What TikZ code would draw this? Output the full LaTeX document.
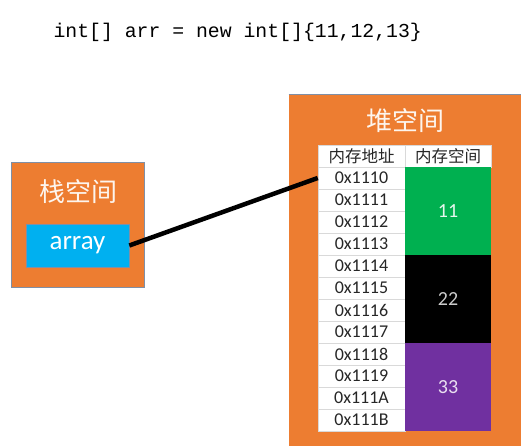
\documentclass[tikz,border=0pt]{standalone}
\usepackage{fontspec}
\setmainfont{Carlito}
\newfontfamily\cjk{Noto Sans CJK SC}
\newfontfamily\codefont{Liberation Mono}
\definecolor{orng}{HTML}{ED7D31}
\definecolor{cyanbox}{HTML}{00B0F0}
\definecolor{grn}{HTML}{00B050}
\definecolor{purp}{HTML}{7030A0}
\definecolor{grid}{HTML}{D9D9D9}
\definecolor{edge}{HTML}{7F8FA6}
\tikzset{
  panel/.style={fill=orng, draw=edge, line width=0.8pt, inner sep=0pt},
  addrcell/.style={fill=white, draw=grid, line width=0.5pt, minimum width=87pt, minimum height=22pt, inner sep=0pt, font=\fontsize{18}{18}\selectfont, text=black!85},
  hdrcell/.style={addrcell, font=\cjk\fontsize{16.5}{16.5}\selectfont},
  valcell/.style={draw=none, minimum width=86pt, minimum height=88pt, inner sep=0pt, font=\fontsize{20}{20}\selectfont},
}
\begin{document}
\begin{tikzpicture}[x=1pt,y=-1pt]
\useasboundingbox (0,0) rectangle (529,446);
\node[font=\codefont\fontsize{19.8}{19.8}\selectfont, anchor=west] (code) at (50,32) {int[] arr = new int[]\{11,12,13\}};
% stack
\node[panel, minimum width=133pt, minimum height=125pt] (stack) at (77.5,224.5) {};
\node[text=white!92!orng, font=\cjk\fontsize{26}{26}\selectfont] (stacklbl) at (78,192) {栈空间};
\node[fill=cyanbox, draw=edge, line width=0.6pt, minimum width=103pt, minimum height=43pt, inner sep=0pt, text=white, font=\fontsize{27}{27}\selectfont] (array) at (77.5,245.5) {array};
% heap
\node[panel, draw=none, minimum width=232pt, minimum height=351pt] (heap) at (405,270.5) {};
\draw[edge, line width=1.2pt] (heap.north west) -- (heap.north east);
\node[text=white!92!orng, font=\cjk\fontsize{26}{26}\selectfont] (heaplbl) at (405,121) {堆空间};
\node[hdrcell] (h0) at (361.5,156) {内存地址};
\node[hdrcell, minimum width=86pt] (h1) at (448,156) {内存空间};
\foreach \i/\t in {0/0x1110,1/0x1111,2/0x1112,3/0x1113,4/0x1114,5/0x1115,6/0x1116,7/0x1117,8/0x1118,9/0x1119,10/0x111A,11/0x111B}{
  \node[addrcell] (a\i) at (361.5,{178+22*\i}) {\t};
}
\node[valcell, fill=grn, text=white!90!grn] (v0) at (448,211) {11};
\node[valcell, fill=black, text=white!80!black] (v1) at (448,299) {22};
\node[valcell, fill=purp, text=white!85!purp] (v2) at (448,387) {33};
\draw[line width=4.5pt] (array.east) -- (a0.west);
\end{tikzpicture}
\end{document}
